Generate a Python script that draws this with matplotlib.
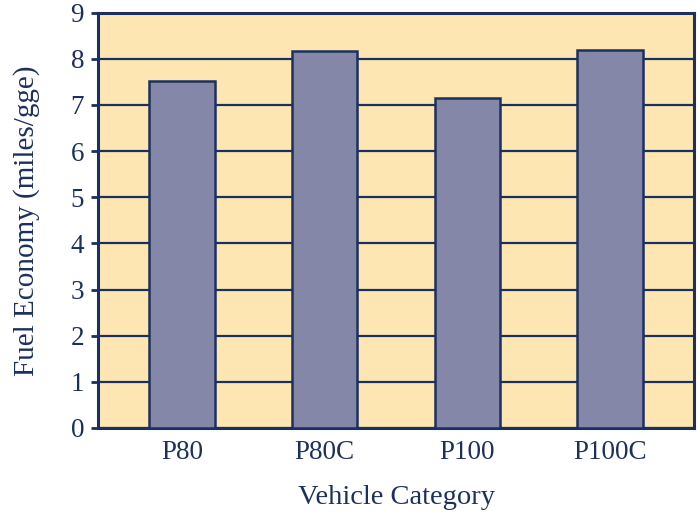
import matplotlib
matplotlib.use("Agg")
import matplotlib.pyplot as plt
import numpy as np

# donnees
categories = ["P80", "P80C", "P100", "P100C"]
fuel_economy = [7.53, 8.18, 7.15, 8.20]
yticks = [0, 1, 2, 3, 4, 5, 6, 7, 8, 9]

navy = "#1c305f"
bg = "#fde6b2"
bar_col = "#8487a8"

plt.rcParams['font.family'] = ['Liberation Serif', 'DejaVu Serif']

fig = plt.figure(figsize=(6.97, 5.12), dpi=100)
ax = fig.add_axes([0.1406, 0.1641, 0.8551, 0.8111])
ax.set_facecolor(bg)

x = np.arange(len(categories))
ax.yaxis.grid(True, color=navy, linewidth=1.6)
ax.set_axisbelow(True)
ax.bar(x, fuel_economy, width=0.46, color=bar_col, edgecolor=navy, linewidth=1.8, zorder=3)

ax.set_xlim(-0.587, 3.587)
ax.set_ylim(0, 9)
ax.set_yticks(yticks)
ax.set_xticks(x)
ax.set_xticklabels(categories)

for s in ax.spines.values():
    s.set_color(navy)
    s.set_linewidth(2.2)

ax.tick_params(axis="y", length=5, width=2, color=navy, labelcolor=navy, labelsize=19.5, pad=5)
ax.tick_params(axis="x", length=0, labelcolor=navy, labelsize=19.5, pad=9)

ax.set_xlabel("Vehicle Category", color=navy, fontsize=20.5, labelpad=14)
ax.set_ylabel("Fuel Economy (miles/gge)", color=navy, fontsize=21, labelpad=22)

fig.savefig("out.png", dpi=100)
